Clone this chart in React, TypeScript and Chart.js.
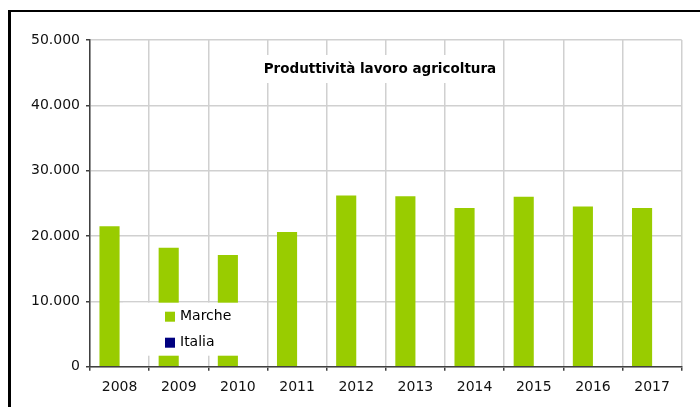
import React, { useEffect, useRef } from 'react';
import { Chart, registerables } from 'chart.js';

Chart.register(...registerables);

const years = ['2008', '2009', '2010', '2011', '2012', '2013', '2014', '2015', '2016', '2017'];
const marche = [21500, 18200, 17100, 20600, 26200, 26100, 24300, 26000, 24500, 24300];
const italia: (number | null)[] = [null, null, null, null, null, null, null, null, null, null];
const seriesLabels = ['Marche', 'Italia'];
const seriesColors = ['#99cc00', '#000080'];
const yMin = 0;
const yMax = 50000;
const yStep = 10000;
const chartTitle = 'Produttività lavoro agricoltura';

const FONT = "'DejaVu Sans', 'Liberation Sans', sans-serif";

function fmt(v: number): string {
  const s = Math.round(v).toString();
  return s.replace(/\B(?=(\d{3})+(?!\d))/g, '.');
}

const framePlugin = {
  id: 'frame',
  afterDraw(chart: any) {
    const ctx = chart.ctx;
    ctx.save();
    ctx.fillStyle = '#000';
    ctx.fillRect(8, 10, 3, chart.height - 10);
    ctx.fillRect(8, 10, chart.width - 8, 2);
    ctx.restore();
  },
};

const innerTitlePlugin = {
  id: 'innerTitle',
  afterDatasetsDraw(chart: any) {
    const { ctx, chartArea } = chart;
    ctx.save();
    ctx.font = `bold 13.5px ${FONT}`;
    const w = ctx.measureText(chartTitle).width;
    const cx = chartArea.left + (chartArea.right - chartArea.left) * 0.49;
    const cy = chartArea.top + 29;
    ctx.fillStyle = '#fff';
    ctx.fillRect(cx - w / 2 - 4, cy - 14, w + 8, 28);
    ctx.fillStyle = '#000';
    ctx.textAlign = 'center';
    ctx.textBaseline = 'middle';
    ctx.fillText(chartTitle, cx, cy);
    ctx.restore();
  },
};

const innerLegendPlugin = {
  id: 'innerLegend',
  afterDatasetsDraw(chart: any) {
    const { ctx, chartArea } = chart;
    const left = chartArea.left + 33;
    const top = chartArea.bottom - 64;
    const boxW = 140;
    const boxH = 53;
    ctx.save();
    ctx.fillStyle = '#fff';
    ctx.fillRect(left, top, boxW, boxH);
    ctx.font = `14px ${FONT}`;
    ctx.textBaseline = 'middle';
    ctx.textAlign = 'left';
    chart.data.datasets.forEach((ds: any, i: number) => {
      const cy = top + 14 + i * 26;
      ctx.fillStyle = ds.backgroundColor;
      ctx.fillRect(left + 42, cy - 5, 10, 10);
      ctx.fillStyle = '#000';
      ctx.fillText(ds.label, left + 57, cy);
    });
    ctx.restore();
  },
};

export default function App() {
  const ref = useRef<HTMLCanvasElement | null>(null);

  useEffect(() => {
    if (!ref.current) return;
    const chart = new Chart(ref.current, {
      type: 'bar',
      data: {
        labels: years,
        datasets: [
          {
            label: seriesLabels[0],
            data: marche,
            backgroundColor: seriesColors[0],
            categoryPercentage: 0.68,
            barPercentage: 1,
          },
          {
            label: seriesLabels[1],
            data: italia as any,
            backgroundColor: seriesColors[1],
            categoryPercentage: 0.68,
            barPercentage: 1,
          },
        ],
      },
      options: {
        responsive: false,
        animation: false,
        devicePixelRatio: 1,
        layout: { padding: { left: 0, top: 40, right: 18.3, bottom: 0 } },
        font: { family: FONT },
        plugins: {
          legend: { display: false },
          title: { display: false },
          tooltip: { enabled: false },
        },
        scales: {
          x: {
            afterFit: (s: any) => {
              s.height = 40.3;
            },
            grid: {
              offset: true,
              color: '#d0d0d0',
              lineWidth: 1.5,
              tickLength: 4,
              tickColor: '#404040',
              tickWidth: 1.5,
            },
            border: { display: true, color: '#404040', width: 1.5 },
            ticks: {
              color: '#111',
              font: { family: FONT, size: 14 },
              padding: 8,
              maxRotation: 0,
            },
          },
          y: {
            min: yMin,
            max: yMax,
            afterFit: (s: any) => {
              s.width = 90;
            },
            grid: {
              color: '#d0d0d0',
              lineWidth: 1.5,
              tickLength: 4,
              tickColor: '#404040',
              tickWidth: 1.5,
            },
            border: { display: true, color: '#404040', width: 1.5 },
            ticks: {
              stepSize: yStep,
              color: '#111',
              font: { family: FONT, size: 14 },
              padding: 6,
              callback: (v: any) => fmt(Number(v)),
            },
          },
        },
      },
      plugins: [innerTitlePlugin, innerLegendPlugin, framePlugin],
    });
    return () => chart.destroy();
  }, []);

  return (
    <div style={{ position: 'absolute', left: 0, top: 0, width: 700, height: 407, background: '#fff' }}>
      <canvas ref={ref} width={700} height={407} style={{ display: 'block', width: 700, height: 407 }} />
    </div>
  );
}
